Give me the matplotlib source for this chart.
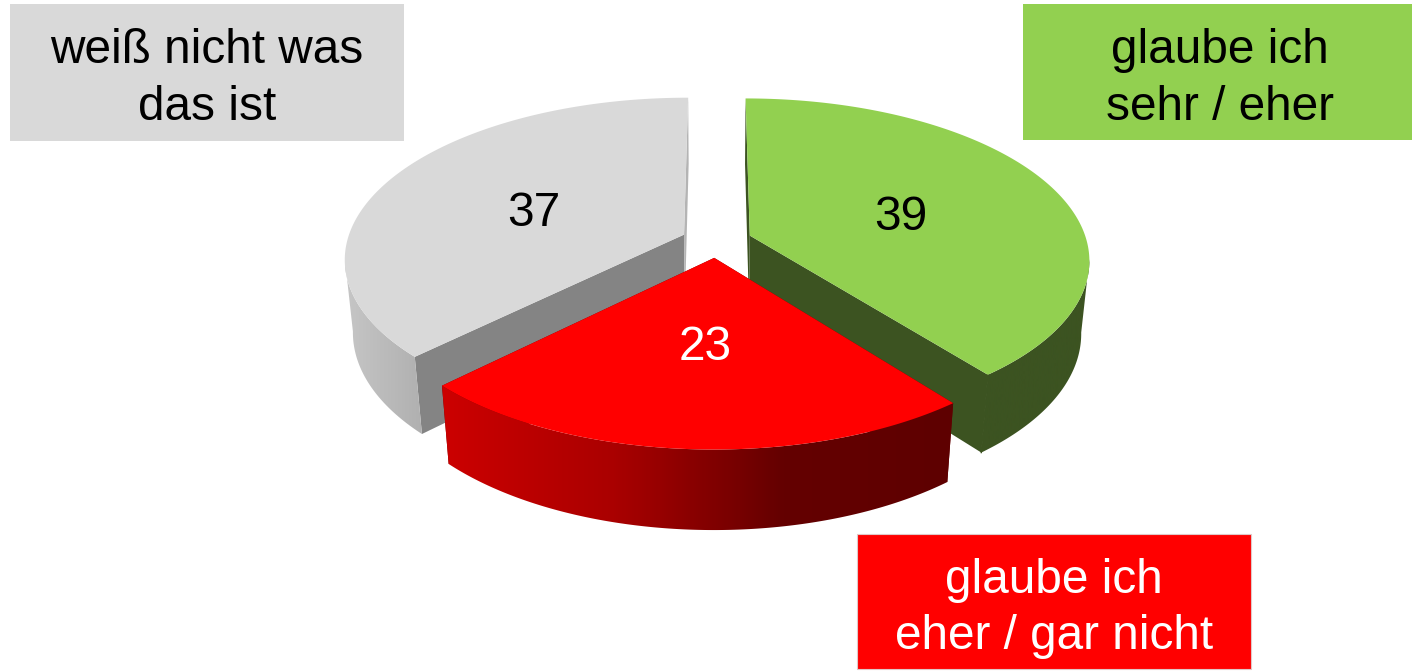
#!/usr/bin/env python3

import numpy as np
import matplotlib
matplotlib.use("Agg")
import matplotlib.pyplot as plt
from matplotlib.colors import LinearSegmentedColormap
from matplotlib.patches import Polygon, Rectangle

plt.rcParams['font.family'] = ['Liberation Sans', 'DejaVu Sans']

# clockwise from 12 o'clock
categories = ["glaube ich sehr / eher", "glaube ich eher / gar nicht", "weiß nicht was das ist"]
values = [39, 23, 37]
top_colors = ["#92d050", "#ff0000", "#d9d9d9"]
# wall at the start and at the end of each slice
wall_colors = [("#3c5321", "#3c5321"), ("#640000", "#640000"), ("#848484", "#b4b4b4")]
value_colors = ["black", "white", "black"]
outer_stops = [
	["#3c5321", "#3c5321"],
	["#cc0000", "#aa0000", "#640000", "#5e0000"],
	["#c6c6c6", "#b0b0b0"],
]
box_lines = [["glaube ich", "sehr / eher"], ["glaube ich", "eher / gar nicht"], ["weiß nicht was", "das ist"]]
text_colors = ["black", "white", "black"]
box_edges = ["none", "#e0c8c8", "none"]

# pixel boxes of the labels, x0 y0 x1 y1
boxes = [(1023, 4, 1412, 140), (857, 534, 1251, 669), (10, 4, 404, 141)]
box_baselines = [(63, 120), (593, 649), (63, 120)]
value_pos = [(901, 218), (705, 347), (534, 214)]

# perspective of the pie, worked out from the picture
CX, CY = 716.5, 241
RX, RY = 337, 158.5
K = 0.145
DEPTH, DEPTH_W = 74, 0.022
EXPLODE = 0.105
FONT = 34.4


def project(x, y, z=0.0):
	w = 1 + K * y + DEPTH_W * z
	return CX + RX * x / w, CY + (-RY * y + DEPTH * z) / w


def quad(x0, y0, x1, y1):
	p = [project(x0, y0, 0), project(x1, y1, 0), project(x1, y1, 1), project(x0, y0, 1)]
	return p


fig = plt.figure(figsize=(14.12, 6.71), dpi=100)
ax = fig.add_axes([0, 0, 1, 1])

edges = np.cumsum([0] + values) / sum(values) * 2 * np.pi
# paint the back slices first, red goes last
for z, i in enumerate([2, 0, 1]):
	a0, a1 = edges[i], edges[i + 1]
	mid = (a0 + a1) / 2
	ox, oy = EXPLODE * np.sin(mid), EXPLODE * np.cos(mid)
	th = np.linspace(a0, a1, 240)
	xs, ys = ox + np.sin(th), oy + np.cos(th)

	# radial walls
	ax.add_patch(Polygon(quad(ox, oy, xs[0], ys[0]), fc=wall_colors[i][0], ec='none', zorder=z + 1))
	ax.add_patch(Polygon(quad(ox, oy, xs[-1], ys[-1]), fc=wall_colors[i][1], ec='none', zorder=z + 1))

	# outer wall, only the part of the rim that faces us
	upper = [project(a, b, 0) for a, b in zip(xs, ys)]
	keep = np.cos(th) <= -K
	rim_up = [project(a, b, 0) for a, b in zip(xs[keep], ys[keep])]
	rim_lo = [project(a, b, 1) for a, b in zip(xs[keep], ys[keep])]
	wall = Polygon(rim_up + rim_lo[::-1], fc='none', ec='none', zorder=z + 1.1)
	ax.add_patch(wall)
	x_lo = min(p[0] for p in rim_up + rim_lo)
	x_hi = max(p[0] for p in rim_up + rim_lo)
	cmap = LinearSegmentedColormap.from_list("rim%d" % i, outer_stops[i])
	img = ax.imshow(np.linspace(0, 1, 256).reshape(1, -1), cmap=cmap, aspect='auto',
		extent=(x_lo, x_hi, 671, 0), zorder=z + 1.1)
	img.set_clip_path(wall)

	# green rim and wall share a colour, so close the seam between them
	if i == 0:
		ax.plot([rim_up[-1][0], rim_lo[-1][0]], [rim_up[-1][1], rim_lo[-1][1]],
			color=wall_colors[i][1], lw=1, zorder=z + 1.15)

	# top face
	top = [project(ox, oy, 0)] + upper
	ax.add_patch(Polygon(top, fc=top_colors[i], ec='none', zorder=z + 1.2))

	ax.text(value_pos[i][0], value_pos[i][1], str(values[i]), color=value_colors[i],
		fontsize=FONT, ha='center', va='center', zorder=10)

	# label box
	x0, y0, x1, y1 = boxes[i]
	ax.add_patch(Rectangle((x0, y0), x1 - x0, y1 - y0, fc=top_colors[i], ec=box_edges[i], lw=0.8, zorder=5))
	for line, base in zip(box_lines[i], box_baselines[i]):
		ax.text((x0 + x1) / 2 + (2 if i == 0 else 0), base, line, color=text_colors[i], fontsize=FONT,
			ha='center', va='baseline', zorder=10)

ax.set_xlim(0, 1412)
ax.set_ylim(671, 0)
ax.axis('off')
fig.savefig("out.png", dpi=100)
